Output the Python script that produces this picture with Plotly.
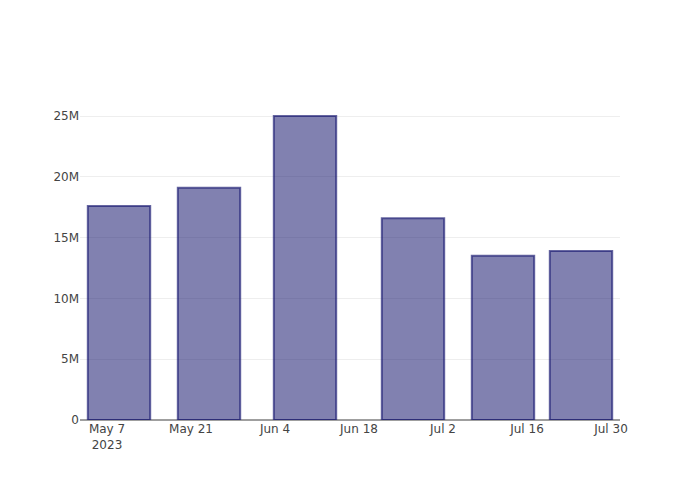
import plotly.graph_objects as go

dates = ["2023-05-09", "2023-05-24", "2023-06-09", "2023-06-27", "2023-07-12", "2023-07-25"]
values = [17.6e6, 19.1e6, 25.0e6, 16.6e6, 13.5e6, 13.9e6]

fig = go.Figure(
    go.Bar(
        x=dates,
        y=values,
        marker=dict(
            color="rgba(25,25,112,0.55)",
            line=dict(color="rgba(25,25,112,0.66)", width=2),
        ),
    )
)

fig.update_layout(
    width=692,
    height=492,
    template="plotly_white",
    font=dict(family="DejaVu Sans", size=12, color="#444"),
    margin=dict(l=72, r=80, t=92, b=80),
    showlegend=False,
)
fig.update_xaxes(showgrid=False, showline=False, ticks="")
fig.update_yaxes(gridcolor="#eeeeee", zeroline=True, zerolinecolor="#9f9f9f", zerolinewidth=2, ticks="")

fig.write_html("out.html")
